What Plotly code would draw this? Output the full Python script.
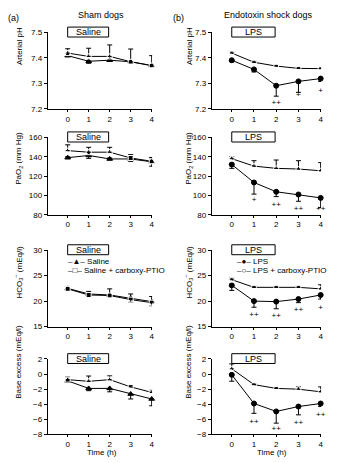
import plotly.graph_objects as go
from plotly.subplots import make_subplots

W, H = 342, 463

time = [0, 1, 2, 3, 4]
time_ticks = ["0", "1", "2", "3", "4"]

# ---- Arterial pH ----
ph_ticks = [7.2, 7.3, 7.4, 7.5]
ph_sham_saline = [7.409, 7.387, 7.391, 7.385, 7.370]
ph_sham_saline_minus = [0.004, 0.008, 0.005, 0.005, 0.004]
ph_sham_ptio = [7.419, 7.406, 7.406, 7.385, 7.370]
ph_sham_ptio_plus = [0.017, 0.032, 0.045, 0.050, 0.039]
ph_lps = [7.391, 7.355, 7.291, 7.308, 7.319]
ph_lps_minus = [0.006, 0.010, 0.041, 0.043, 0.011]
ph_lps_ptio = [7.419, 7.383, 7.368, 7.359, 7.358]
ph_lps_ptio_plus = [0.004, 0.004, 0.003, 0.003, 0.003]
ph_sig_text = ["", "", "++", "+", "+"]
ph_sig_y = [None, None, 7.224, 7.256, 7.271]

# ---- PaO2 ----
po2_ticks = [80, 100, 120, 140, 160]
po2_sham_saline = [139.0, 141.3, 137.7, 137.7, 134.7]
po2_sham_saline_err = [1.0, 3.0, 1.0, 2.5, 4.5]
po2_sham_ptio = [146.3, 144.7, 144.7, 138.7, 135.3]
po2_sham_ptio_plus = [6.0, 5.0, 5.0, 3.5, 2.5]
po2_lps = [132.0, 113.4, 103.8, 101.0, 97.5]
po2_lps_minus = [4.0, 12.0, 5.0, 7.0, 10.0]
po2_lps_ptio = [138.0, 130.3, 128.0, 127.3, 125.5]
po2_lps_ptio_plus = [2.0, 5.6, 8.6, 8.6, 8.4]
po2_sig_text = ["", "+", "++", "++", "++"]
po2_sig_y = [None, 94.9, 90.5, 85.8, 86.4]

# ---- HCO3- ----
hco3_ticks = [15, 20, 25, 30]
hco3_sham_saline = [22.5, 21.4, 21.2, 20.6, 19.9]
hco3_sham_saline_plus = [0.3, 0.5, 1.2, 0.8, 1.0]
hco3_sham_ptio = [22.4, 21.2, 21.1, 20.3, 19.7]
hco3_sham_ptio_minus = [0.3, 0.3, 0.3, 0.5, 0.6]
hco3_lps = [23.1, 20.0, 19.9, 20.4, 21.2]
hco3_lps_minus = [1.0, 1.2, 1.4, 0.7, 0.8]
hco3_lps_ptio = [24.2, 22.7, 22.7, 22.7, 22.4]
hco3_lps_ptio_plus = [0.3, 0.2, 0.2, 0.2, 0.8]
hco3_sig_text = ["", "++", "++", "++", "+"]
hco3_sig_y = [None, 17.3, 17.1, 18.2, 18.7]

# ---- Base excess ----
be_ticks = [-8, -6, -4, -2, 0, 2]
be_tick_labels = ["−8", "−6", "−4", "−2", "0", "2"]
be_sham_saline = [-0.9, -1.9, -1.9, -2.65, -3.3]
be_sham_saline_minus = [0.2, 0.3, 0.45, 0.65, 0.9]
be_sham_ptio = [-0.74, -0.96, -0.74, -1.7, -2.43]
be_sham_ptio_plus = [0.35, 0.7, 0.5, 0.2, 0.3]
be_lps = [-0.1, -3.9, -4.95, -4.3, -3.9]
be_lps_minus = [0.85, 1.3, 1.55, 1.1, 0.4]
be_lps_ptio = [0.7, -1.4, -1.9, -2.0, -2.35]
be_lps_ptio_plus = [0.65, 0.1, 0.1, 0.3, 0.65]
be_sig_text = ["", "++", "++", "++", "++"]
be_sig_y = [None, -6.35, -7.25, -6.5, -5.4]

box_labels = ["Saline", "LPS"]
legend_sham = ["–▲– Saline", "–□– Saline + carboxy-PTIO"]
legend_lps = ["–●– LPS", "–○– LPS + carboxy-PTIO"]
y_titles = ["Arterial pH", "PaO<sub>2</sub> (mm Hg)",
            "HCO<sub>3</sub><sup>−</sup> (mEq/l)", "Base excess (mEq/l)"]

FONT = "Liberation Sans, Arial, sans-serif"

fig = make_subplots(rows=4, cols=2)


def err(plus=None, minus=None):
    n = 5
    return dict(type="data", symmetric=False,
                array=plus if plus is not None else [0] * n,
                arrayminus=minus if minus is not None else [0] * n,
                thickness=1, width=2.5, color="black")


def add_series(row, col, y, e, symbol, filled):
    fig.add_trace(go.Scatter(
        x=time, y=y, mode="lines+markers", cliponaxis=False,
        line=dict(color="black", width=1),
        marker=dict(symbol=symbol, size=5,
                    color="black" if filled else "white",
                    line=dict(color="black", width=1)),
        error_y=e, showlegend=False), row=row, col=col)


def add_sig(row, col, ys, texts):
    xs = [t for t, s in zip(time, texts) if s]
    yv = [y for y, s in zip(ys, texts) if s]
    tv = [s for s in texts if s]
    fig.add_trace(go.Scatter(
        x=xs, y=yv, mode="text", text=tv, cliponaxis=False,
        textfont=dict(size=8, color="black", family=FONT),
        showlegend=False, hoverinfo="skip"), row=row, col=col)


# Row 1
add_series(1, 1, ph_sham_saline, err(minus=ph_sham_saline_minus), "triangle-up", True)
add_series(1, 1, ph_sham_ptio, err(plus=ph_sham_ptio_plus), "square-open", False)
add_series(1, 2, ph_lps, err(minus=ph_lps_minus), "circle", True)
add_series(1, 2, ph_lps_ptio, err(plus=ph_lps_ptio_plus), "circle-open", False)
add_sig(1, 2, ph_sig_y, ph_sig_text)
# Row 2
add_series(2, 1, po2_sham_saline, err(plus=po2_sham_saline_err, minus=po2_sham_saline_err), "triangle-up", True)
add_series(2, 1, po2_sham_ptio, err(plus=po2_sham_ptio_plus), "square-open", False)
add_series(2, 2, po2_lps, err(minus=po2_lps_minus), "circle", True)
add_series(2, 2, po2_lps_ptio, err(plus=po2_lps_ptio_plus), "circle-open", False)
add_sig(2, 2, po2_sig_y, po2_sig_text)
# Row 3
add_series(3, 1, hco3_sham_saline, err(plus=hco3_sham_saline_plus), "triangle-up", True)
add_series(3, 1, hco3_sham_ptio, err(minus=hco3_sham_ptio_minus), "square-open", False)
add_series(3, 2, hco3_lps, err(minus=hco3_lps_minus), "circle", True)
add_series(3, 2, hco3_lps_ptio, err(plus=hco3_lps_ptio_plus), "circle-open", False)
add_sig(3, 2, hco3_sig_y, hco3_sig_text)
# Row 4
add_series(4, 1, be_sham_saline, err(minus=be_sham_saline_minus), "triangle-up", True)
add_series(4, 1, be_sham_ptio, err(plus=be_sham_ptio_plus), "square-open", False)
add_series(4, 2, be_lps, err(minus=be_lps_minus), "circle", True)
add_series(4, 2, be_lps_ptio, err(plus=be_lps_ptio_plus), "circle-open", False)
add_sig(4, 2, be_sig_y, be_sig_text)

# Layout geometry (pixels)
col_px = [(48, 153), (213, 323)]
col_xrange = [[-0.95, 4.02], [-0.9, 4.02]]
row_px = [(29, 107), (136, 215), (251, 329), (362, 439)]
y_ranges = [[7.2, 7.5], [80, 160], [15, 30], [-8, 2]]
y_tickvals = [ph_ticks, po2_ticks, hco3_ticks, be_ticks]
y_ticktext = [[f"{v:.1f}" for v in ph_ticks], [str(v) for v in po2_ticks],
              [str(v) for v in hco3_ticks], be_tick_labels]

axis_common = dict(showline=True, linecolor="black", linewidth=1, ticks="outside",
                   tickcolor="black", tickwidth=1, showgrid=False,
                   zeroline=False, tickfont=dict(size=8, family=FONT, color="black"))

for r in range(4):
    for c in range(2):
        idx = r * 2 + c + 1
        xs = "xaxis" if idx == 1 else f"xaxis{idx}"
        ys = "yaxis" if idx == 1 else f"yaxis{idx}"
        fig.layout[xs].update(
            domain=[col_px[c][0] / W, col_px[c][1] / W], range=col_xrange[c],
            tickvals=time, ticktext=time_ticks, ticklen=2, ticklabelstandoff=0,
            **axis_common)
        fig.layout[ys].update(
            domain=[1 - row_px[r][1] / H, 1 - row_px[r][0] / H], range=y_ranges[r],
            tickvals=y_tickvals[r], ticktext=y_ticktext[r], ticklen=3,
            **axis_common)
        xr = "x" if idx == 1 else f"x{idx}"
        yr = "y" if idx == 1 else f"y{idx}"
        fig.add_shape(type="rect", xref=xr, yref=f"{yr} domain",
                      x0=0, x1=1.95, y0=0.94, y1=1.07,
                      line=dict(color="black", width=1), fillcolor="white")
        fig.add_annotation(x=0.975, y=1.005, xref=xr, yref=f"{yr} domain",
                           text=box_labels[c], showarrow=False,
                           xanchor="center", yanchor="middle",
                           font=dict(size=9, family=FONT, color="black"))


def ann(x, y, text, size=9, angle=0, xanchor="center"):
    fig.add_annotation(x=x / W, y=1 - y / H, xref="paper", yref="paper",
                       text=text, showarrow=False, textangle=angle,
                       xanchor=xanchor, yanchor="middle",
                       font=dict(size=size, family=FONT, color="black"))


ann(14, 14, "(a)")
ann(102, 11, "Sham dogs")
ann(180, 14, "(b)")
ann(270, 11, "Endotoxin shock dogs")

title_y = [43, 157, 273, 365]
for r in range(4):
    ann(19, title_y[r], y_titles[r], size=8, angle=-90)
    ann(190, title_y[r], y_titles[r], size=8, angle=-90)

ann(103, 457, "Time (h)", size=8)
ann(274, 457, "Time (h)", size=8)

for i, t in enumerate(legend_sham):
    ann(66, 263 + 9 * i, t, size=8, xanchor="left")
for i, t in enumerate(legend_lps):
    ann(236, 263 + 9 * i, t, size=8, xanchor="left")

fig.update_layout(width=W, height=H, margin=dict(l=0, r=0, t=0, b=0),
                  plot_bgcolor="white", paper_bgcolor="white",
                  font=dict(family=FONT, color="black"))

fig.write_html("out.html", config={"displayModeBar": False},
               post_script="document.body.style.margin='0';document.body.style.padding='0';document.body.style.overflow='hidden';")
